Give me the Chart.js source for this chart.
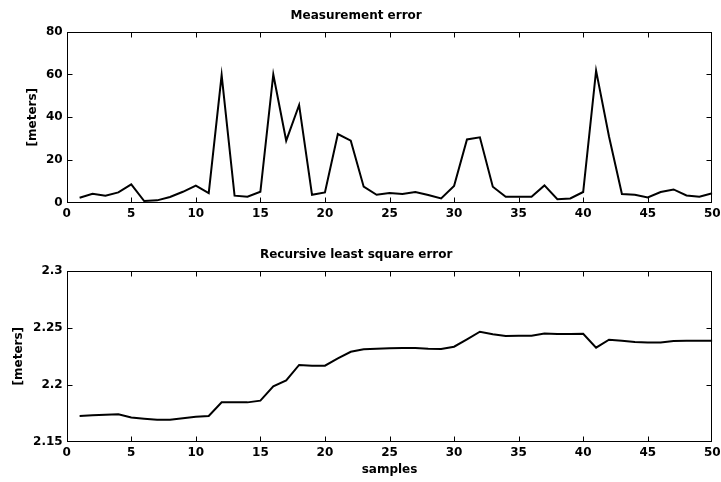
<!DOCTYPE html>
<html>
<head>
<meta charset="utf-8">
<script src="https://cdn.jsdelivr.net/npm/chart.js@4"></script>
<style>
  body { margin: 0; background: #fff; }
  #wrap { position: relative; width: 721px; height: 482px; }
  canvas { position: absolute; left: 0; }
  #errChart { top: 0; }
  #rlsChart { top: 239px; }
</style>
</head>
<body>
<div id="wrap">
  <canvas id="errChart" width="721" height="239"></canvas>
  <canvas id="rlsChart" width="721" height="243"></canvas>
</div>
<script>
// sample index 1..50
const samples = Array.from({ length: 50 }, (_, i) => i + 1);

// measurement error [meters]
const measurementError = [
  2.3, 4.2, 3.3, 4.8, 8.6, 0.8, 1.1, 2.7, 5.1, 8.0,
  4.5, 59.7, 3.3, 2.8, 5.1, 60.0, 29.0, 45.7, 3.7, 4.8,
  32.1, 29.0, 7.5, 3.7, 4.5, 4.1, 5.0, 3.6, 2.0, 7.8,
  29.6, 30.6, 7.5, 2.8, 2.8, 2.8, 8.1, 1.6, 2.0, 5.0,
  61.8, 31.0, 4.1, 3.7, 2.5, 5.0, 6.2, 3.4, 2.8, 4.4
];

// recursive least square error [meters]
const rlsError = [
  2.1725, 2.1731, 2.1737, 2.1740, 2.1713, 2.1702, 2.1693, 2.1693, 2.1705, 2.1719,
  2.1725, 2.1845, 2.1845, 2.1845, 2.1860, 2.1985, 2.2038, 2.2173, 2.2167, 2.2167,
  2.2231, 2.2289, 2.2310, 2.2316, 2.2319, 2.2322, 2.2322, 2.2316, 2.2313, 2.2333,
  2.2398, 2.2465, 2.2442, 2.2427, 2.2430, 2.2430, 2.2450, 2.2444, 2.2444, 2.2447,
  2.2325, 2.2395, 2.2386, 2.2374, 2.2371, 2.2371, 2.2383, 2.2386, 2.2386, 2.2386
];

const xTicks = [0, 5, 10, 15, 20, 25, 30, 35, 40, 45, 50];
const yTicksErr = [0, 20, 40, 60, 80];
const yTicksRls = [2.15, 2.2, 2.25, 2.3];

Chart.defaults.font.family = "'DejaVu Sans', sans-serif";
Chart.defaults.font.weight = "bold";
Chart.defaults.font.size = 12;
Chart.defaults.color = "#000";

// matlab style box with inward ticks on all four sides
const boxPlugin = {
  id: "box",
  afterDraw(chart) {
    const { ctx, chartArea: a, scales } = chart;
    const L = Math.round(a.left) + 0.5, R = Math.round(a.right) - 0.5;
    const T = Math.round(a.top) + 0.5, B = Math.round(a.bottom) - 0.5;
    const len = 5;
    ctx.save();
    ctx.strokeStyle = "#000";
    ctx.lineWidth = 1;
    ctx.beginPath();
    scales.x.ticks.forEach(t => {
      const px = Math.round(scales.x.getPixelForValue(t.value)) + 0.5;
      if (px <= L + 1 || px >= R - 1) return;
      ctx.moveTo(px, B); ctx.lineTo(px, B - len);
      ctx.moveTo(px, T); ctx.lineTo(px, T + len);
    });
    scales.y.ticks.forEach(t => {
      const py = Math.round(scales.y.getPixelForValue(t.value)) + 0.5;
      if (py <= T + 1 || py >= B - 1) return;
      ctx.moveTo(L, py); ctx.lineTo(L + len, py);
      ctx.moveTo(R, py); ctx.lineTo(R - len, py);
    });
    ctx.stroke();
    ctx.strokeRect(L, T, R - L, B - T);
    ctx.restore();
  }
};

function makeChart(id, values, opts) {
  const canvas = document.getElementById(id);
  return new Chart(canvas.getContext("2d"), {
    type: "line",
    data: {
      labels: samples,
      datasets: [{
        data: samples.map((s, i) => ({ x: s, y: values[i] })),
        borderColor: "#000",
        borderWidth: 2,
        pointRadius: 0,
        tension: 0,
        fill: false
      }]
    },
    options: {
      responsive: false,
      animation: false,
      layout: { padding: { left: 0, right: 8.7, top: 0, bottom: 0 } },
      plugins: {
        legend: { display: false },
        tooltip: { enabled: false },
        title: {
          display: true,
          text: opts.title,
          font: { size: 12, weight: "bold" },
          padding: { top: 8.5, bottom: 8.8 }
        }
      },
      scales: {
        x: {
          type: "linear",
          min: 0,
          max: 50,
          grid: { display: false, drawTicks: false },
          border: { display: false },
          ticks: { padding: 4, maxRotation: 0, autoSkip: false },
          afterBuildTicks: s => { s.ticks = xTicks.map(v => ({ value: v })); },
          title: opts.xTitle
            ? { display: true, text: opts.xTitle, padding: { top: 0, bottom: opts.xTitlePad } }
            : { display: false },
          afterFit: s => {
            s.height = opts.xHeight;
            s.paddingLeft = 0;
            s.paddingRight = 0;
          }
        },
        y: {
          min: opts.yMin,
          max: opts.yMax,
          grid: { display: false, drawTicks: false },
          border: { display: false },
          ticks: { padding: 4, callback: v => String(Math.round(v * 1000) / 1000) },
          afterBuildTicks: s => { s.ticks = opts.yTicks.map(v => ({ value: v })); },
          title: { display: true, text: "[meters]", padding: { top: opts.yTitlePad, bottom: 0 } },
          afterFit: s => { s.width = 66.7; }
        }
      }
    },
    plugins: [boxPlugin]
  });
}

makeChart("errChart", measurementError, {
  title: "Measurement error",
  yMin: 0, yMax: 80, yTicks: yTicksErr,
  xHeight: 239 - 202.7,
  yTitlePad: 26
});

makeChart("rlsChart", rlsError, {
  title: "Recursive least square error",
  yMin: 2.15, yMax: 2.3, yTicks: yTicksRls,
  xHeight: 243 - 202.7,
  xTitle: "samples", xTitlePad: 4.8,
  yTitlePad: 12
});
</script>
</body>
</html>
